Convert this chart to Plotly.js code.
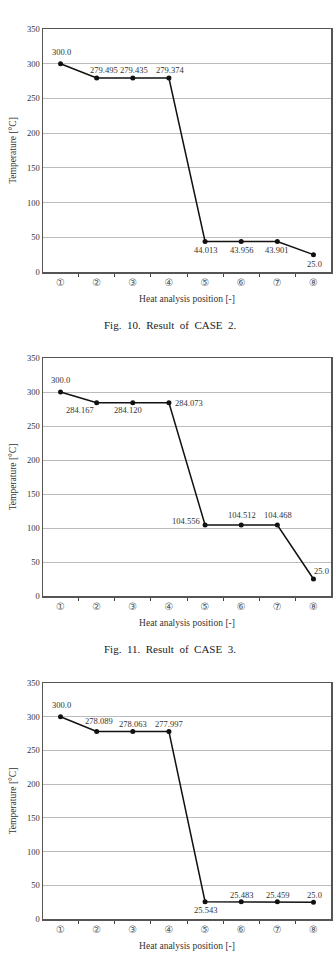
<!DOCTYPE html>
<html>
<head>
<meta charset="utf-8">
<script src="https://cdn.plot.ly/plotly-3.0.1.min.js"></script>
<style>html,body{margin:0;padding:0;background:#fff}#chart{width:336px;height:962px}</style>
</head>
<body>
<div id="chart"></div>
<script>
// ---- data ----
var positions = ["①","②","③","④","⑤","⑥","⑦","⑧"];
var case2Temps = [300.0, 279.495, 279.435, 279.374, 44.013, 43.956, 43.901, 25.0];
var case3Temps = [300.0, 284.167, 284.120, 284.073, 104.556, 104.512, 104.468, 25.0];
var case4Temps = [300.0, 278.089, 278.063, 277.997, 25.543, 25.483, 25.459, 25.0];
var captions = ["Fig.\u00a0\u00a010.\u00a0\u00a0Result\u00a0\u00a0of\u00a0\u00a0CASE\u00a0\u00a02.",
                "Fig.\u00a0\u00a011.\u00a0\u00a0Result\u00a0\u00a0of\u00a0\u00a0CASE\u00a0\u00a03."];
var xTitle = "Heat analysis position [-]";
var yTitle = "Temperature [°C]";

// ---- label offsets (style, px) ----
var shifts2 = [[1,12],[7,8],[1,8],[1,8],[0,-9],[0,-9],[-1,-8],[1,-9]];
var shifts3 = [[0,12],[-17,-7],[-5,-7],[20,0],[-19,4],[1,10],[1,10],[8,8]];
var shifts4 = [[1,12],[2,10],[0,8],[0,8],[0,-8],[0,7],[0,7],[1,7]];

var FONT = "Liberation Serif, Times New Roman, serif";
var series = [case2Temps, case3Temps, case4Temps];
var shifts = [shifts2, shifts3, shifts4];
var domainsY = [[1-272/962, 1-29/962],[1-596/962, 1-358/962],[1-919/962, 1-683/962]];
var xDomain = [43/336, 331/336];

function fmt(v){ return Number.isInteger(v) ? v.toFixed(1) : v.toFixed(3); }

var data = [], annotations = [];
var layout = {
  width: 336, height: 962,
  margin: {l:0, r:0, t:0, b:0},
  paper_bgcolor: "#fff", plot_bgcolor: "#fff",
  showlegend: false,
  font: {family: FONT, color: "#333", size: 9}
};

series.forEach(function(vals, i){
  var sfx = i === 0 ? "" : String(i+1);
  data.push({
    type: "scatter", mode: "lines+markers",
    x: positions, y: vals,
    xaxis: "x"+sfx, yaxis: "y"+sfx,
    line: {color: "#111", width: 1.5},
    marker: {color: "#111", size: 5},
    hoverinfo: "none", cliponaxis: false
  });
  layout["xaxis"+sfx] = {
    domain: xDomain, anchor: "y"+sfx, type: "category",
    showgrid: false, zeroline: false,
    showline: true, mirror: true, linecolor: "#555", linewidth: 1.5,
    ticks: "outside", tickson: "boundaries", ticklen: 3, tickcolor: "#444", tickwidth: 1,
    tickfont: {family: "DejaVu Sans, sans-serif", size: 10, color: "#555"},
    title: {text: xTitle, font: {family: FONT, size: 9.5, color: "#333"}, standoff: 9},
    fixedrange: true
  };
  layout["yaxis"+sfx] = {
    domain: domainsY[i], anchor: "x"+sfx,
    range: [0, 350], dtick: 50, tick0: 0,
    showgrid: true, gridcolor: "#bbb", gridwidth: 1, zeroline: false,
    showline: true, mirror: true, linecolor: "#555", linewidth: 1.5,
    ticks: "", tickfont: {family: FONT, size: 8.5, color: "#333"},
    title: {text: yTitle, font: {family: FONT, size: 9.5, color: "#333"}, standoff: 8},
    fixedrange: true
  };
  vals.forEach(function(v, j){
    annotations.push({
      xref: "x"+sfx, yref: "y"+sfx, x: positions[j], y: v,
      text: fmt(v), showarrow: false,
      xshift: shifts[i][j][0], yshift: shifts[i][j][1],
      font: {family: FONT, size: 8.5, color: "#333"}
    });
  });
});

var captionY = [1-325/962, 1-649/962];
captions.forEach(function(c, k){
  annotations.push({
    xref: "paper", yref: "paper", x: 170/336, y: captionY[k],
    xanchor: "center", yanchor: "middle",
    text: c, showarrow: false,
    font: {family: FONT, size: 11, color: "#222"}
  });
});
layout.annotations = annotations;

Plotly.newPlot("chart", data, layout, {staticPlot: true, displayModeBar: false});
</script>
</body>
</html>
